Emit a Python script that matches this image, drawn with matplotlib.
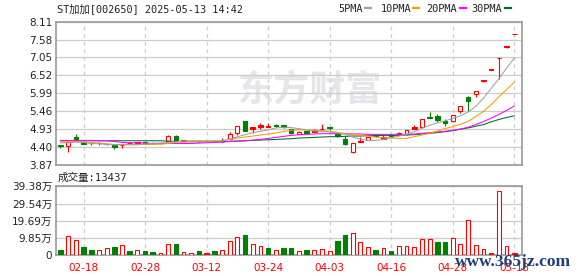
"""
ST加加 [002650] daily K-line with moving averages and volume,
recreated from an Eastmoney quote snapshot (2025-05-13 14:42).
"""

import matplotlib
matplotlib.use("Agg")
import matplotlib.pyplot as plt
from matplotlib.lines import Line2D
import numpy as np


dates = [
    "02-13", "02-14", "02-17", "02-18", "02-19", "02-20", "02-21", "02-24", "02-25", "02-26",
    "02-27", "02-28", "03-03", "03-04", "03-05", "03-06", "03-07", "03-10", "03-11", "03-12",
    "03-13", "03-14", "03-17", "03-18", "03-19", "03-20", "03-21", "03-24", "03-25", "03-26",
    "03-27", "03-28", "03-31", "04-01", "04-02", "04-03", "04-07", "04-08", "04-09", "04-10",
    "04-11", "04-14", "04-15", "04-16", "04-17", "04-18", "04-21", "04-22", "04-23", "04-24",
    "04-25", "04-28", "04-29", "04-30", "05-06", "05-07", "05-08", "05-09", "05-12", "05-13",
]

opens = [
    4.45, 4.43, 4.69, 4.55, 4.50, 4.50, 4.48, 4.46, 4.44, 4.50,
    4.52, 4.53, 4.52, 4.50, 4.57, 4.72, 4.58, 4.57, 4.58, 4.56,
    4.57, 4.56, 4.64, 4.82, 5.17, 4.93, 4.98, 5.00, 5.05, 5.04,
    4.92, 4.79, 4.86, 4.85, 4.92, 4.98, 4.80, 4.62, 4.24, 4.55,
    4.60, 4.74, 4.63, 4.74, 4.75, 4.77, 4.94, 4.99, 5.28, 5.31,
    5.17, 5.16, 5.47, 5.89, 5.97, 6.35, 6.69, 7.02, 7.37, 7.74,
]
highs = [
    4.46, 4.55, 4.78, 4.56, 4.53, 4.53, 4.49, 4.47, 4.49, 4.53,
    4.54, 4.54, 4.53, 4.52, 4.75, 4.75, 4.59, 4.59, 4.59, 4.58,
    4.59, 4.65, 4.84, 5.03, 5.18, 5.00, 5.10, 5.10, 5.07, 5.06,
    4.93, 4.86, 4.87, 4.92, 5.08, 5.00, 4.81, 4.72, 4.51, 4.68,
    4.69, 4.76, 4.79, 4.75, 4.83, 4.91, 5.04, 5.23, 5.43, 5.37,
    5.22, 5.35, 5.62, 5.90, 6.07, 6.37, 6.69, 7.02, 7.37, 7.74,
]
lows = [
    4.37, 4.26, 4.59, 4.48, 4.44, 4.44, 4.45, 4.35, 4.36, 4.48,
    4.50, 4.50, 4.50, 4.49, 4.56, 4.57, 4.57, 4.56, 4.55, 4.55,
    4.56, 4.55, 4.60, 4.74, 4.87, 4.80, 4.92, 4.98, 5.00, 4.95,
    4.78, 4.78, 4.78, 4.84, 4.91, 4.90, 4.70, 4.46, 4.23, 4.54,
    4.59, 4.69, 4.62, 4.70, 4.74, 4.76, 4.93, 4.98, 5.25, 5.14,
    5.03, 5.15, 5.41, 5.47, 5.89, 6.31, 6.69, 6.41, 7.34, 7.74,
]
closes = [
    4.41, 4.54, 4.60, 4.49, 4.51, 4.52, 4.47, 4.38, 4.46, 4.52,
    4.53, 4.51, 4.51, 4.51, 4.72, 4.58, 4.58, 4.58, 4.56, 4.56,
    4.57, 4.58, 4.78, 5.02, 4.88, 4.99, 5.05, 5.01, 5.02, 4.98,
    4.80, 4.85, 4.82, 4.89, 4.93, 4.95, 4.72, 4.47, 4.50, 4.58,
    4.68, 4.71, 4.70, 4.71, 4.82, 4.90, 4.99, 5.22, 5.26, 5.19,
    5.10, 5.34, 5.61, 5.77, 6.05, 6.37, 6.69, 7.02, 7.37, 7.74,
]
# u = red hollow, d = green filled, f = red filled
candle_kind = list(
    "duddffddff" "fddfudffdf" "ffuudfffdd"
    "dudffddduf" "udfdfufudd" "duudufffff"
)

ma5 = [
    4.52, 4.52, 4.54, 4.53, 4.50, 4.49, 4.47, 4.46, 4.46, 4.46,
    4.46, 4.48, 4.50, 4.51, 4.53, 4.55, 4.57, 4.58, 4.58, 4.58,
    4.57, 4.58, 4.62, 4.70, 4.76, 4.82, 4.86, 4.90, 4.96, 4.98,
    4.97, 4.94, 4.90, 4.87, 4.86, 4.84, 4.81, 4.77, 4.69, 4.63,
    4.59, 4.59, 4.62, 4.67, 4.72, 4.77, 4.85, 4.95, 5.04, 5.11,
    5.17, 5.24, 5.32, 5.43, 5.60, 5.84, 6.13, 6.42, 6.73, 7.03,
]
ma10 = [
    4.55, 4.55, 4.55, 4.55, 4.53, 4.51, 4.49, 4.47, 4.47, 4.47,
    4.47, 4.47, 4.47, 4.48, 4.50, 4.53, 4.55, 4.56, 4.56, 4.56,
    4.57, 4.58, 4.62, 4.66, 4.69, 4.72, 4.75, 4.78, 4.81, 4.85,
    4.89, 4.90, 4.90, 4.89, 4.88, 4.86, 4.83, 4.79, 4.76, 4.74,
    4.72, 4.69, 4.67, 4.66, 4.65, 4.65, 4.70, 4.75, 4.80, 4.87,
    4.94, 5.00, 5.07, 5.15, 5.30, 5.45, 5.65, 5.88, 6.10, 6.32,
]
ma20 = [
    4.59, 4.59, 4.59, 4.59, 4.59, 4.58, 4.58, 4.56, 4.53, 4.52,
    4.52, 4.51, 4.50, 4.50, 4.50, 4.50, 4.50, 4.50, 4.51, 4.52,
    4.53, 4.54, 4.56, 4.57, 4.58, 4.60, 4.62, 4.65, 4.68, 4.71,
    4.74, 4.76, 4.77, 4.78, 4.79, 4.79, 4.79, 4.79, 4.78, 4.78,
    4.77, 4.77, 4.77, 4.77, 4.77, 4.77, 4.78, 4.80, 4.82, 4.84,
    4.86, 4.89, 4.93, 4.98, 5.06, 5.15, 5.25, 5.36, 5.48, 5.61,
]
ma30 = [
    4.58, 4.58, 4.58, 4.58, 4.58, 4.58, 4.58, 4.58, 4.58, 4.58,
    4.58, 4.58, 4.58, 4.58, 4.57, 4.56, 4.55, 4.55, 4.55, 4.55,
    4.55, 4.55, 4.56, 4.57, 4.58, 4.59, 4.60, 4.61, 4.62, 4.63,
    4.64, 4.66, 4.67, 4.68, 4.69, 4.70, 4.70, 4.71, 4.72, 4.72,
    4.73, 4.73, 4.74, 4.74, 4.74, 4.75, 4.76, 4.78, 4.80, 4.82,
    4.85, 4.88, 4.92, 4.96, 5.01, 5.06, 5.14, 5.21, 5.27, 5.32,
]

# volume in 万 (10k lots)
volume = [
    2.85, 10.8, 8.6, 4.6, 2.85, 3.2, 4.4, 4.6, 5.7, 2.3,
    2.85, 2.3, 1.7, 1.5, 6.3, 6.5, 2.1, 1.5, 2.3, 1.1,
    2.3, 2.85, 8.0, 10.3, 11.6, 6.3, 5.1, 4.2, 2.85, 4.0,
    4.2, 2.5, 3.0, 3.0, 3.4, 2.5, 8.2, 11.6, 12.7, 7.6,
    4.8, 3.0, 4.0, 2.5, 5.1, 5.1, 4.6, 9.1, 9.1, 7.6,
    7.6, 9.7, 6.3, 20.0, 5.7, 3.4, 1.3, 36.6, 5.1, 1.34,
]
# r = red hollow, g = green filled, R = red filled
volume_kind = list(
    "grrggrrgrg" "rggrrgrrgR" "grrrgrrgrg"
    "grgrrrggrr" "rgrgrrrrrg" "grrrrrRrrR"
)

price_ticks = [3.87, 4.40, 4.93, 5.46, 5.99, 6.52, 7.05, 7.58, 8.11]
volume_ticks = [0, 9.85, 19.69, 29.54, 39.38]
volume_labels = ["0", "9.85万", "19.69万", "29.54万", "39.38万"]
tick_dates = ["02-18", "02-28", "03-12", "03-24", "04-03", "04-16", "04-28", "05-13"]

ma_names = ["5PMA", "10PMA", "20PMA", "30PMA"]
ma_colors = ["#a0a0a0", "#f0a000", "#ff00ff", "#006a30"]

# ── Style ───────────────────────────────────────────────────────────────────

RED = "#ff0000"
GREEN = "#008000"
FRAME = "#999999"
GRID = "#cccccc"
TEXT = "#222222"
SANS = ["DejaVu Sans", "Noto Sans CJK SC"]
MONO = ["DejaVu Sans Mono", "Noto Sans CJK SC"]

W, H = 578, 276
fig = plt.figure(figsize=(W / 100, H / 100), dpi=100)
ax = fig.add_axes([55.7 / W, 1 - 164.7 / H, 466.6 / W, 143 / H])
axv = fig.add_axes([55.7 / W, 1 - 255.3 / H, 466.6 / W, 69 / H])

x = np.arange(len(dates))
tick_pos = [dates.index(d) for d in tick_dates]

for a in (ax, axv):
    a.set_xlim(-0.62, 60.05)
    a.set_axisbelow(True)
    a.set_xticks(tick_pos)
    a.xaxis.grid(True, color=GRID, linestyle=(0, (3, 3)), linewidth=0.9)
    a.yaxis.grid(True, color=GRID, linestyle="-", linewidth=0.9)
    a.tick_params(length=0, labelsize=7.5, labelcolor=TEXT, pad=2.5)
    for s in a.spines.values():
        s.set_color(FRAME)
        s.set_linewidth(1.2)

# ── Price panel ─────────────────────────────────────────────────────────────

ax.set_ylim(3.87, 8.11)
ax.set_yticks(price_ticks)
ax.set_yticklabels([f"{t:.2f}" for t in price_ticks], family=SANS)
ax.tick_params(axis="x", labelbottom=False)

ax.text(310 / W, 1 - 90 / H, "东方财富", transform=fig.transFigure, fontsize=26,
        fontweight="bold", color="#e6e6ea", ha="center", va="center",
        family=["Noto Sans CJK SC"], zorder=0.3)

face = {"u": "white", "d": GREEN, "f": RED}
edge = {"u": RED, "d": GREEN, "f": RED}
width = {"u": 0.5, "d": 0.6, "f": 0.6}
o = np.array(opens)
c = np.array(closes)
bottoms = np.minimum(o, c)
heights = np.maximum(np.abs(c - o), 0.012)
ax.vlines(x, lows, highs, colors=[edge[k] for k in candle_kind], linewidth=0.8, zorder=3)
ax.bar(x, heights, bottom=bottoms, width=[width[k] for k in candle_kind],
       color=[face[k] for k in candle_kind], edgecolor=[edge[k] for k in candle_kind],
       linewidth=0.8, zorder=4)

for vals, col in zip([ma30, ma20, ma10, ma5], ma_colors[::-1]):
    ax.plot(x, vals, color=col, linewidth=0.75, zorder=5)

# ── Volume panel ────────────────────────────────────────────────────────────

axv.set_ylim(0, 39.38)
axv.set_yticks(volume_ticks)
axv.set_yticklabels(volume_labels, family=SANS)
axv.set_xticklabels(tick_dates, family=SANS)
axv.tick_params(axis="x", labelcolor=RED, pad=5.3)

vface = {"r": "white", "g": GREEN, "R": RED}
vedge = {"r": RED, "g": GREEN, "R": RED}
vwidth = {"r": 0.5, "g": 0.6, "R": 0.6}
axv.bar(x, volume, width=[vwidth[k] for k in volume_kind],
        color=[vface[k] for k in volume_kind], edgecolor=[vedge[k] for k in volume_kind],
        linewidth=0.8, zorder=3)

# ── Header texts and legend ─────────────────────────────────────────────────

fig.text(57 / W, 1 - 9 / H, "ST加加[002650] 2025-05-13 14:42", fontsize=7.4,
         family=MONO, color=TEXT, va="center")
fig.text(58 / W, 1 - 178 / H, "成交量:13437", fontsize=7.6,
         family=MONO, color=TEXT, va="center")

legend_x = [338, 380.7, 425.7, 471.7]
dash_x = [364.7, 413, 459.7, 505]
for name, col, lx, dx in zip(ma_names, ma_colors, legend_x, dash_x):
    fig.text(lx / W, 1 - 9 / H, name, fontsize=7.4, family=MONO, color=TEXT, va="center")
    fig.add_artist(Line2D([dx / W, (dx + 6) / W], [1 - 8.3 / H, 1 - 8.3 / H],
                          transform=fig.transFigure, color=col, linewidth=1.6))

fig.text(513 / W, 1 - 262 / H, "www.365jz.com", fontsize=12.5, fontweight="bold",
         family=["Liberation Serif"], color="#1d3f7a", ha="center", va="center")

fig.savefig("out.png", dpi=100)
